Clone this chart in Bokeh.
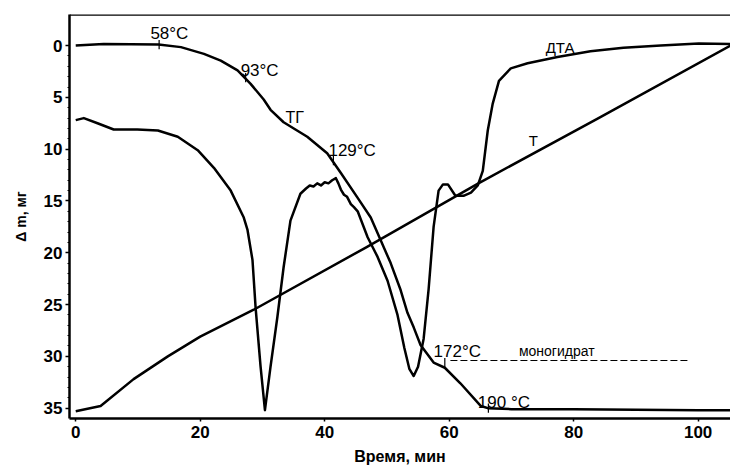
from bokeh.plotting import figure
from bokeh.models import Range1d, Span, FixedTicker
from bokeh.core.properties import value
from bokeh.embed import file_html
from bokeh.resources import INLINE

# ---- data ----
# TG curve (ТГ): time, min -> Δm, mg
tg_t = [0.0, 4.5, 13.3, 16.9, 20.6, 23.3, 26.0, 28.1, 30.2, 31.3, 33.4, 35.3, 37.2,
        40.4, 42.6, 45.3, 47.4, 49.0, 50.6, 52.2, 53.3, 54.3, 55.4, 57.5, 59.3,
        61.8, 65.1, 66.2, 70.0, 80.0, 90.0, 100.0, 105.2]
tg_v = [0.0, -0.15, -0.1, 0.15, 0.8, 1.45, 2.4, 3.7, 5.2, 6.2, 7.4, 8.1, 8.8,
        10.4, 12.3, 14.7, 16.6, 18.8, 21.0, 23.6, 25.8, 27.2, 28.9, 30.6, 31.1,
        32.6, 34.8, 35.0, 35.1, 35.1, 35.15, 35.2, 35.2]

# DTA curve (ДТА)
dta_t = [0.0, 1.3, 3.5, 6.1, 9.9, 13.2, 16.4, 19.6, 22.2, 24.9, 27.0, 27.6, 28.4,
         28.9, 29.7, 30.4, 31.3, 32.4, 33.4, 34.5, 36.1, 37.0, 37.6, 38.2, 38.8,
         39.4, 40.0, 40.6, 41.2, 41.8, 42.2, 42.6, 43.1, 43.6, 44.2, 44.7, 45.3,
         46.9, 48.5, 50.1, 51.7, 52.8, 53.6, 54.3, 55.0, 55.9, 56.7, 57.5, 58.3,
         59.0, 59.8, 61.0, 62.3, 63.5, 64.6, 65.4, 66.2, 67.0, 68.0, 69.9, 72.6,
         77.4, 82.7, 88.0, 94.0, 100.1, 105.2]
dta_v = [7.2, 7.0, 7.5, 8.1, 8.1, 8.2, 8.8, 10.1, 11.8, 14.0, 16.6, 17.8, 20.7,
         25.3, 31.0, 35.2, 31.0, 26.2, 21.4, 16.9, 14.3, 13.8, 13.5, 13.6, 13.3,
         13.5, 13.2, 13.3, 13.0, 12.8, 13.3, 13.9, 14.4, 14.6, 15.3, 15.6, 16.0,
         18.5, 20.4, 22.7, 26.0, 29.2, 31.2, 31.9, 31.0, 28.3, 23.5, 17.5, 14.0,
         13.4, 13.4, 14.5, 14.5, 14.2, 13.5, 12.1, 8.2, 5.6, 3.4, 2.2, 1.7,
         1.1, 0.55, 0.2, 0.0, -0.2, -0.15]

# Temperature curve (T)
t_t = [0.0, 4.0, 9.3, 14.8, 20.0, 28.6, 46.6, 64.7, 84.0, 105.2]
t_v = [35.3, 34.8, 32.2, 30.0, 28.1, 25.5, 19.5, 13.3, 7.0, 0.0]

# monohydrate level (dashed)
mono_t = [60.2, 98.5]
mono_v = [30.4, 30.4]

# temperature marks on the TG curve
mark_t = [13.4, 27.3, 41.4, 59.3, 66.3]
mark_v = [-0.1, 3.1, 11.1, 30.6, 35.0]

# labels
lab_text = ["58°C", "93°C", "ТГ", "129°C", "ДТА", "T", "172°C", "моногидрат", "190 °C"]
lab_x = [12.0, 26.5, 33.7, 40.6, 75.5, 72.8, 57.5, 71.2, 64.6]
lab_y = [-1.2, 2.4, 6.9, 10.1, 0.2, 9.2, 29.5, 29.5, 34.5]
lab_size = ["17px", "17px", "16px", "17px", "15px", "15px", "17px", "14px", "17px"]

y_ticks = [0, 5, 10, 15, 20, 25, 30, 35]
x_ticks = [0, 20, 40, 60, 80, 100]

FONT = "Liberation Sans"

p = figure(width=730, height=472, output_backend="svg", toolbar_location=None,
           x_range=Range1d(-1, 105.2), y_range=Range1d(36, -3),
           min_border_left=69, min_border_top=14, min_border_right=0, min_border_bottom=54)
p.grid.visible = False
p.outline_line_color = None
p.background_fill_color = "white"
p.border_fill_color = "white"

LW = 2.5
p.line(tg_t, tg_v, line_color="black", line_width=LW, line_join="round")
p.line(dta_t, dta_v, line_color="black", line_width=LW, line_join="round")
p.line(t_t, t_v, line_color="black", line_width=LW, line_join="round")
p.line(mono_t, mono_v, line_color="black", line_width=1.2, line_dash="7 3")
p.segment(x0=mark_t, y0=[v - 0.45 for v in mark_v], x1=mark_t, y1=[v + 0.45 for v in mark_v],
          line_color="black", line_width=1.2)

p.text(x=lab_x, y=lab_y, text=lab_text, text_font=value(FONT), text_font_size=lab_size,
       text_color="black", text_align="left", text_baseline="alphabetic")

# top frame line
p.add_layout(Span(location=-3, dimension="width", line_color="black", line_width=2.5))

for ax in (p.xaxis[0], p.yaxis[0]):
    ax.axis_line_width = 2.5
    ax.axis_line_color = "black"
    ax.major_tick_line_color = "black"
    ax.major_tick_line_width = 1.5
    ax.major_tick_in = 0
    ax.minor_tick_line_color = "black"
    ax.minor_tick_in = 0
    ax.major_label_text_font = FONT
    ax.major_label_text_font_style = "bold"
    ax.major_label_text_font_size = "17px"
    ax.major_label_text_color = "black"
    ax.axis_label_text_font = FONT
    ax.axis_label_text_font_style = "bold"
    ax.axis_label_text_color = "black"

p.xaxis[0].ticker = FixedTicker(ticks=x_ticks)
p.xaxis[0].major_tick_out = 3
p.xaxis[0].minor_tick_out = 0
p.xaxis[0].major_label_standoff = 4
p.xaxis[0].axis_label = "Время, мин"
p.xaxis[0].axis_label_text_font_size = "16px"
p.xaxis[0].axis_label_standoff = 7

p.yaxis[0].ticker = FixedTicker(ticks=y_ticks, minor_ticks=[1, 2, 3, 4, 6, 7, 8, 9, 11, 12, 13, 14,
                                                          16, 17, 18, 19, 21, 22, 23, 24, 26, 27,
                                                          28, 29, 31, 32, 33, 34])
p.yaxis[0].major_tick_out = 4
p.yaxis[0].minor_tick_out = 2
p.yaxis[0].major_label_standoff = 3
p.yaxis[0].axis_label = "Δ m, мг"
p.yaxis[0].axis_label_text_font_size = "14px"
p.yaxis[0].axis_label_standoff = 12

open("out.html", "w").write(file_html(p, INLINE))
